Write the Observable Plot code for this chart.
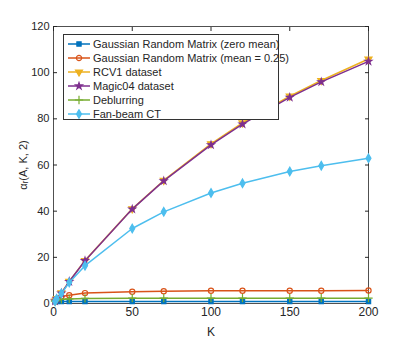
<!DOCTYPE html>
<html><head><meta charset="utf-8">
<script src="https://cdn.jsdelivr.net/npm/d3@7"></script>
<script src="https://cdn.jsdelivr.net/npm/@observablehq/plot@0.6"></script>
<style>
body{margin:0;background:#fff;font-family:"Liberation Sans",Arial,sans-serif}
#wrap{position:relative;width:407px;height:340px}
#legend{position:absolute;left:63px;top:34px;width:216px;height:86px;border:1px solid #333;background:#fff;box-sizing:border-box;font-size:11px;color:#262626}
.row{position:absolute;left:0;height:14px;display:flex;align-items:center;white-space:nowrap}
.row svg{margin-left:4px;margin-right:3px}
</style></head><body><div id="wrap"></div>
<script>
const K = [1, 2, 5, 10, 20, 50, 70, 100, 120, 150, 170, 200];
const seriesNames = [
  "Gaussian Random Matrix (zero mean)",
  "Gaussian Random Matrix (mean = 0.25)",
  "RCV1 dataset",
  "Magic04 dataset",
  "Deblurring",
  "Fan-beam CT"
];
const gaussZero = [0.9, 0.9, 0.9, 0.9, 0.9, 0.9, 0.9, 0.9, 0.9, 0.9, 0.9, 0.9];
const gaussMean = [1.2, 2.0, 3.0, 3.6, 4.5, 5.1, 5.35, 5.5, 5.5, 5.5, 5.5, 5.6];
const rcv1 = [1, 2, 4.6, 9.6, 18.6, 41.0, 53.3, 69.2, 78.2, 89.8, 96.6, 105.9];
const magic04 = [1, 2, 4.5, 9.5, 18.5, 40.9, 53.1, 68.7, 77.7, 89.3, 96.0, 104.9];
const deblurring = [1, 1.5, 1.8, 2.0, 2.2, 2.3, 2.3, 2.3, 2.3, 2.3, 2.3, 2.3];
const fanbeam = [1, 2, 4.3, 9.1, 16.4, 32.5, 39.7, 47.9, 52.1, 57.2, 59.7, 62.9];
const xTicks = [0, 50, 100, 150, 200];
const yTicks = [0, 20, 40, 60, 80, 100, 120];
const colors = ["#0072BD", "#D95319", "#EDB120", "#7E2F8E", "#77AC30", "#4DBEEE"];
const symbols = ["square", "circle", "triangle", "star", "plus", "diamond"];
const rotations = [0, 0, 180, 0, 0, 0];
const filled = [true, false, true, true, false, true];
const values = [gaussZero, gaussMean, rcv1, magic04, deblurring, fanbeam];
const d3Symbols = {square: d3.symbolSquare, circle: d3.symbolCircle, triangle: d3.symbolTriangle, star: d3.symbolStar, plus: d3.symbolPlus, diamond: d3.symbolDiamond};
const markR = [2.4, 2.6, 2.6, 2.1, 2.8, 2.6];

const seriesMarks = [];
values.forEach((vals, i) => {
  const d = K.map((k, j) => ({K: k, v: vals[j]}));
  seriesMarks.push(Plot.line(d, {x: "K", y: "v", stroke: colors[i], strokeWidth: 1.5}));
  seriesMarks.push(Plot.dot(d, {
    x: "K", y: "v", symbol: symbols[i], r: markR[i], rotate: rotations[i],
    stroke: colors[i], strokeWidth: 1.2,
    fill: filled[i] ? colors[i] : "none"
  }));
});

const axisCol = "#262626";
const chart = Plot.plot({
  width: 407, height: 340,
  marginLeft: 53, marginRight: 39, marginTop: 26, marginBottom: 37,
  style: {fontFamily: "'Liberation Sans', Arial, sans-serif", fontSize: "11px", color: axisCol, background: "white", overflow: "visible"},
  x: {domain: [0, 200]},
  y: {domain: [0, 120]},
  marks: [
    Plot.frame({stroke: axisCol, strokeWidth: 0.8}),
    Plot.axisX(xTicks, {tickSize: 0, tickPadding: 4, fill: axisCol, label: "K", labelArrow: "none", labelAnchor: "center", labelOffset: 32, fontSize: 12}),
    Plot.axisX(xTicks, {tickSize: 4, dy: -4, tickFormat: () => "", label: null, stroke: axisCol}),
    Plot.axisX(xTicks, {anchor: "top", tickSize: 4, dy: 4, tickFormat: () => "", label: null, stroke: axisCol}),
    Plot.axisY(yTicks, {tickSize: 0, tickPadding: 4, fill: axisCol, label: "αᵣ(A, K, 2)", labelArrow: "none", labelAnchor: "center", labelOffset: 34, fontSize: 11}),
    Plot.axisY(yTicks, {tickSize: 4, dx: 4, tickFormat: () => "", label: null, stroke: axisCol}),
    Plot.axisY(yTicks, {anchor: "right", tickSize: 4, dx: -4, tickFormat: () => "", label: null, stroke: axisCol}),
    ...seriesMarks
  ]
});

const wrap = document.getElementById("wrap");
wrap.appendChild(chart);

const legend = document.createElement("div");
legend.id = "legend";
seriesNames.forEach((name, i) => {
  const row = document.createElement("div");
  row.className = "row";
  row.style.top = (1.5 + i * 14) + "px";
  const ns = "http://www.w3.org/2000/svg";
  const svg = document.createElementNS(ns, "svg");
  svg.setAttribute("width", 22); svg.setAttribute("height", 10);
  const ln = document.createElementNS(ns, "line");
  ln.setAttribute("x1", 0); ln.setAttribute("x2", 22); ln.setAttribute("y1", 5); ln.setAttribute("y2", 5);
  ln.setAttribute("stroke", colors[i]); ln.setAttribute("stroke-width", 1.5);
  svg.appendChild(ln);
  const r = markR[i];
  const sym = d3.symbol(d3Symbols[symbols[i]], Math.PI * r * r)();
  const p = document.createElementNS(ns, "path");
  p.setAttribute("d", sym);
  p.setAttribute("transform", `translate(11,5) rotate(${rotations[i]})`);
  p.setAttribute("stroke", colors[i]); p.setAttribute("stroke-width", 1.2);
  p.setAttribute("fill", filled[i] ? colors[i] : "none");
  svg.appendChild(p);
  row.appendChild(svg);
  const t = document.createElement("span");
  t.textContent = name;
  row.appendChild(t);
  legend.appendChild(row);
});
wrap.appendChild(legend);
</script></body></html>
